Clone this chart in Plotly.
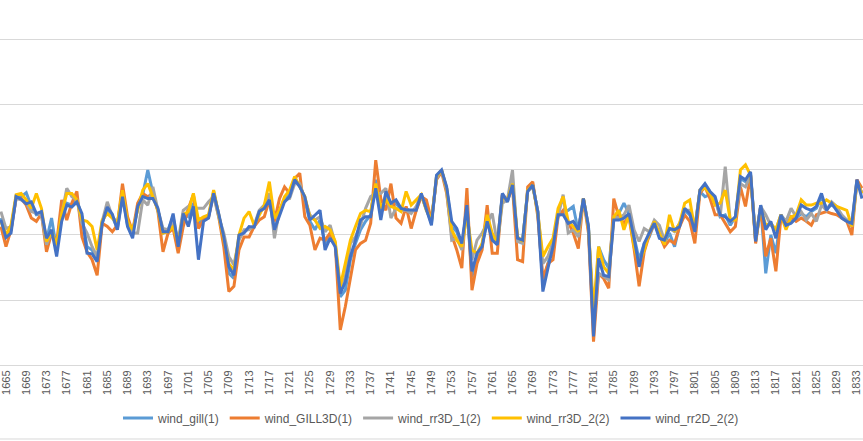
import plotly.graph_objects as go

# categories (one reading per year)
years = list(range(1664, 1835))

# series values (y axis units: 10 per gridline)
wind_gill = [
    22.6, 20.0, 20.8, 25.9, 25.9, 26.5, 24.4, 23.1, 23.3, 19.2, 22.6, 17.7, 22.8, 24.9, 24.6, 25.4, 22.8, 18.2, 17.7, 16.2, 21.8, 24.1, 22.8, 21.0, 26.2,
    21.5, 20.3, 24.1, 26.2, 30.0, 26.4, 23.8, 20.3, 20.8, 22.8, 18.5, 23.3, 22.8, 24.9, 21.8, 22.6, 22.8, 26.7, 23.1, 19.5, 14.1, 13.3, 19.5, 20.5,
    21.0, 21.3, 23.3, 24.4, 25.9, 20.5, 23.6, 25.4, 26.2, 28.5, 27.7, 25.4, 22.1, 20.8, 22.3, 18.7, 20.0, 18.5, 10.5, 11.5, 16.2, 18.7, 20.8, 22.1,
    23.1, 28.5, 23.1, 26.2, 24.6, 24.9, 23.8, 24.1, 23.6, 24.1, 26.2, 24.1, 21.8, 29.0, 29.9, 27.2, 21.3, 20.5, 18.2, 24.1, 13.6, 16.7, 18.5, 22.3,
    19.5, 18.5, 26.2, 25.1, 27.9, 19.2, 19.0, 26.9, 27.7, 23.6, 12.6, 15.6, 18.5, 23.1, 23.6, 23.8, 24.4, 20.5, 25.6, 21.3, 5.9, 18.2, 16.2, 14.9,
    22.8, 23.3, 24.9, 23.3, 19.5, 16.2, 18.7, 19.7, 21.8, 20.0, 18.7, 20.3, 18.2, 21.5, 23.8, 23.1, 20.8, 26.7, 25.9, 26.2, 25.6, 22.8, 23.1, 21.5,
    22.8, 28.7, 28.2, 29.5, 19.0, 24.6, 14.1, 20.0, 17.2, 23.1, 21.8, 22.1, 22.6, 23.3, 22.8, 23.6, 24.1, 25.9, 24.1, 24.6, 24.1, 22.8, 22.3, 21.5, 28.5, 26.4,
]
wind_gill3d = [
    21.3, 18.2, 20.8, 25.6, 25.6, 24.6, 22.6, 22.1, 23.3, 17.4, 20.3, 18.7, 25.4, 22.3, 24.9, 26.7, 19.7, 17.4, 16.2, 13.8, 21.8, 21.3, 20.5, 21.5, 27.9,
    22.8, 20.5, 24.9, 26.4, 25.9, 26.4, 23.6, 17.4, 20.3, 21.0, 17.2, 21.3, 24.1, 26.2, 21.0, 22.3, 22.8, 26.4, 22.8, 18.2, 11.3, 12.1, 17.7, 19.7,
    19.7, 21.3, 22.3, 22.8, 25.4, 22.1, 25.6, 27.4, 26.4, 28.7, 29.5, 22.8, 21.5, 17.7, 19.5, 19.2, 20.3, 18.7, 5.4, 9.0, 13.1, 17.7, 18.7, 19.2,
    21.8, 31.5, 25.6, 23.8, 27.9, 22.6, 21.8, 24.4, 21.0, 23.8, 25.9, 25.4, 22.3, 28.5, 29.7, 26.4, 20.0, 17.7, 14.9, 27.2, 11.5, 15.6, 17.7, 24.6,
    17.2, 17.2, 26.2, 25.4, 27.4, 16.2, 15.9, 27.4, 28.2, 22.8, 13.3, 15.6, 16.2, 22.8, 23.8, 22.1, 20.3, 17.9, 25.6, 20.3, 3.6, 14.1, 13.3, 11.8,
    25.6, 22.8, 21.8, 22.8, 17.9, 12.1, 17.4, 20.0, 21.8, 20.0, 18.2, 19.2, 18.7, 21.3, 23.1, 22.1, 18.7, 26.4, 27.4, 25.6, 23.1, 23.1, 21.8, 20.5,
    21.3, 27.4, 24.4, 29.2, 18.7, 24.4, 16.7, 19.5, 14.4, 22.8, 21.5, 22.8, 22.1, 22.6, 22.1, 21.5, 23.1, 23.3, 23.6, 23.3, 23.1, 22.6, 22.1, 20.0, 28.5, 27.2,
]
wind_rr3d_1 = [
    23.6, 21.0, 21.3, 25.6, 25.4, 24.9, 23.6, 23.3, 23.1, 18.5, 20.5, 18.2, 23.1, 27.2, 25.9, 25.4, 21.8, 20.3, 18.2, 16.7, 22.1, 25.1, 22.8, 21.8, 26.4,
    21.8, 20.3, 20.3, 25.4, 24.6, 27.4, 23.8, 21.0, 20.8, 21.8, 19.2, 23.8, 24.4, 24.1, 24.1, 24.1, 25.1, 25.9, 22.8, 20.3, 16.7, 15.4, 19.2, 20.8,
    20.8, 21.5, 23.8, 24.6, 26.4, 19.5, 23.8, 25.4, 25.6, 27.9, 27.9, 25.4, 23.1, 22.3, 22.8, 20.5, 21.5, 18.7, 11.3, 13.6, 18.7, 19.7, 21.5, 24.1,
    25.9, 26.4, 26.4, 27.2, 22.6, 24.1, 23.8, 23.8, 23.3, 24.4, 26.2, 23.8, 22.1, 28.7, 30.0, 26.9, 19.2, 19.5, 17.7, 23.8, 16.2, 19.2, 20.3, 21.8,
    23.3, 18.7, 24.9, 25.4, 30.0, 19.0, 18.7, 26.7, 27.4, 23.6, 15.6, 16.7, 19.0, 22.8, 26.2, 20.3, 20.8, 19.7, 25.6, 21.0, 6.4, 14.1, 13.6, 13.1,
    22.8, 22.6, 23.1, 24.6, 20.8, 19.0, 21.0, 20.5, 22.3, 21.5, 19.2, 21.0, 20.5, 21.8, 23.8, 23.8, 21.3, 26.7, 27.4, 26.4, 25.4, 22.8, 30.5, 22.1,
    22.6, 27.9, 27.4, 29.2, 19.7, 24.4, 23.1, 21.5, 20.8, 23.1, 22.1, 24.1, 22.8, 23.6, 22.3, 23.3, 22.1, 24.6, 23.8, 25.1, 24.4, 23.1, 22.3, 21.3, 27.9, 26.4,
]
wind_rr3d_2 = [
    22.1, 20.0, 21.5, 26.2, 26.4, 25.4, 24.1, 26.4, 24.1, 19.0, 20.5, 18.5, 23.3, 26.4, 26.4, 25.4, 22.3, 22.1, 21.3, 17.7, 22.3, 23.3, 22.6, 21.8, 26.9,
    22.1, 20.8, 23.8, 26.9, 27.9, 25.9, 23.8, 20.3, 20.5, 21.3, 18.7, 23.1, 23.6, 26.4, 22.3, 22.8, 23.1, 26.9, 23.1, 19.5, 15.6, 14.6, 20.0, 22.6,
    23.6, 21.5, 23.1, 24.6, 28.2, 22.6, 23.8, 25.9, 26.9, 29.0, 27.4, 25.9, 22.8, 22.3, 21.0, 21.3, 20.8, 19.0, 12.1, 15.6, 19.2, 21.3, 23.3, 23.8,
    23.6, 27.9, 24.1, 25.4, 24.4, 24.1, 23.6, 26.7, 24.6, 25.4, 26.2, 23.8, 22.3, 29.0, 30.0, 27.2, 20.8, 19.2, 18.2, 23.1, 17.7, 17.2, 18.7, 23.1,
    20.3, 18.7, 25.9, 25.4, 27.9, 19.7, 19.0, 26.9, 27.7, 23.3, 16.7, 18.2, 19.5, 24.1, 25.9, 22.1, 21.3, 20.5, 25.6, 21.0, 8.5, 18.2, 15.1, 14.1,
    22.8, 23.8, 20.8, 23.1, 18.2, 15.6, 17.7, 20.3, 22.1, 20.3, 18.5, 23.1, 20.5, 21.8, 24.9, 25.4, 20.8, 26.9, 27.2, 26.4, 24.6, 24.9, 26.9, 22.3,
    22.3, 30.0, 30.8, 29.2, 19.2, 24.1, 21.5, 21.8, 20.8, 23.1, 20.8, 22.8, 23.1, 25.4, 24.6, 24.6, 24.9, 24.9, 25.4, 24.9, 24.4, 24.1, 23.8, 21.3, 28.2, 26.4,
]
wind_rr2d_2 = [
    22.3, 19.6, 20.3, 25.9, 25.5, 24.8, 25.1, 23.3, 23.6, 19.5, 20.8, 16.7, 22.1, 24.6, 24.3, 25.1, 23.3, 17.2, 17.1, 15.9, 21.8, 24.3, 23.2, 20.8, 25.9,
    21.3, 19.5, 24.4, 25.9, 25.6, 25.6, 24.1, 20.5, 20.5, 23.3, 18.2, 23.3, 21.3, 24.4, 16.2, 22.1, 22.6, 26.4, 23.3, 19.7, 15.1, 13.8, 20.0, 20.3,
    21.3, 21.2, 23.6, 24.1, 25.4, 20.8, 23.1, 25.1, 25.9, 28.5, 27.4, 25.9, 22.3, 23.1, 23.8, 17.7, 19.5, 18.2, 11.0, 12.8, 16.7, 19.2, 22.3, 22.8,
    22.8, 27.2, 22.3, 26.7, 24.9, 25.4, 24.1, 23.9, 23.8, 23.8, 26.4, 24.1, 21.5, 29.2, 30.0, 27.4, 22.1, 21.0, 18.7, 24.6, 14.4, 17.2, 18.2, 22.1,
    19.2, 18.5, 26.4, 25.1, 27.7, 19.5, 19.2, 26.7, 27.7, 23.6, 11.3, 14.9, 18.2, 23.1, 23.1, 21.8, 22.1, 20.8, 25.6, 21.3, 4.4, 16.4, 13.8, 13.6,
    22.3, 22.3, 22.6, 23.3, 19.5, 15.1, 18.7, 20.3, 21.8, 19.5, 19.2, 21.0, 20.8, 21.3, 24.1, 23.3, 20.5, 26.9, 27.9, 26.7, 25.9, 23.1, 22.8, 22.1,
    22.8, 29.0, 28.5, 29.7, 19.0, 24.6, 20.8, 22.1, 19.5, 23.1, 21.5, 21.8, 22.6, 24.6, 24.1, 23.8, 24.4, 26.4, 23.8, 24.9, 23.8, 22.6, 22.1, 21.8, 28.5, 25.6,
]

# x tick labels, every 4th year
tick_years = list(range(1665, 1834, 4))
tick_labels = [str(y) for y in tick_years]

series = [
    ("wind_gill(1)", wind_gill, "#5B9BD5"),
    ("wind_GILL3D(1)", wind_gill3d, "#ED7D31"),
    ("wind_rr3D_1(2)", wind_rr3d_1, "#A5A5A5"),
    ("wind_rr3D_2(2)", wind_rr3d_2, "#FFC000"),
    ("wind_rr2D_2(2)", wind_rr2d_2, "#4472C4"),
]

fig = go.Figure()
for name, vals, color in series:
    fig.add_trace(go.Scatter(
        x=years, y=vals, name=name, mode="lines",
        line=dict(color=color, width=3),
    ))

fig.update_layout(
    width=863, height=441,
    margin=dict(l=0, r=0, t=0, b=76),
    paper_bgcolor="white", plot_bgcolor="white",
    font=dict(family="Liberation Sans, Arial, sans-serif", color="#595959"),
    showlegend=True,
    legend=dict(
        orientation="h", x=0.5, xanchor="center", y=-0.145, yanchor="middle",
        font=dict(size=12, color="#595959"), itemwidth=30,
    ),
    xaxis=dict(
        range=[1663.82, 1834.2], tickvals=tick_years, ticktext=tick_labels,
        tickangle=-90, tickfont=dict(size=11, color="#595959"),
        ticklabeloverflow="allow",
        showgrid=False, showline=True, linecolor="#D9D9D9", linewidth=1,
        ticks="", zeroline=False,
    ),
    yaxis=dict(
        range=[0, 56.15], dtick=10, showticklabels=False,
        gridcolor="#D9D9D9", gridwidth=1, zeroline=False, ticks="",
    ),
    shapes=[dict(type="line", xref="paper", yref="paper", x0=0, x1=1,
                 y0=-0.2027, y1=-0.2027, line=dict(color="#D9D9D9", width=1))],
)

# page body has a default 8px margin; drop it so the figure sits at the corner
fig.write_html("out.html", config={"displayModeBar": False},
               post_script="document.body.style.margin='0';")
